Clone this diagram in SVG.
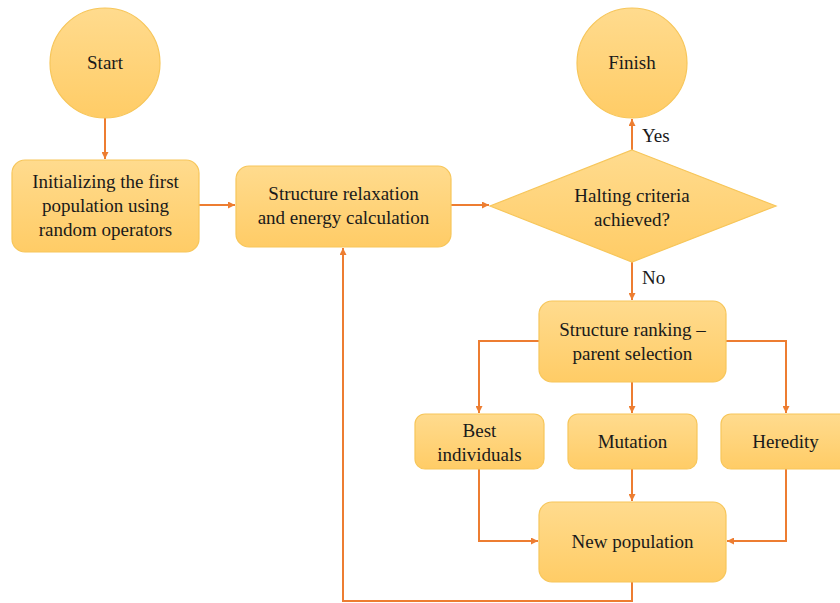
<svg xmlns="http://www.w3.org/2000/svg" width="840" height="603" viewBox="0 0 840 603">
<defs>
<linearGradient id="g" x1="0" y1="0" x2="0" y2="1">
<stop offset="0" stop-color="#FFDB8E"/>
<stop offset="1" stop-color="#FFCC66"/>
</linearGradient>
<marker id="a" viewBox="0 0 10 10" refX="10" refY="5" markerWidth="7" markerHeight="7" markerUnits="userSpaceOnUse" orient="auto">
<path d="M0,0 L10,5 L0,10 z" fill="#ED7D31"/>
</marker>
</defs>
<style>
.n{fill:url(#g);stroke:#F7C65A;stroke-width:1.2}
.t{font-family:'Liberation Serif','Times New Roman',serif;font-size:19px;fill:#1a1a1a;text-anchor:middle}
.c{fill:none;stroke:#ED7D31;stroke-width:2;marker-end:url(#a)}
.l{font-family:'Liberation Serif','Times New Roman',serif;font-size:19px;fill:#1a1a1a}
</style>
<rect width="840" height="603" fill="#fff"/>
<g id="connectors">
<path class="c" d="M105,118 V159"/>
<path class="c" d="M199,205 H235"/>
<path class="c" d="M451,205 H489"/>
<path class="c" d="M632,150 V119"/>
<path class="c" d="M632,262 V300"/>
<path class="c" d="M539,341 H479 V413"/>
<path class="c" d="M632,382 V413"/>
<path class="c" d="M726,341 H786 V413"/>
<path class="c" d="M479,469 V541 H538"/>
<path class="c" d="M632,469 V501"/>
<path class="c" d="M786,469 V541 H727"/>
<path class="c" d="M632,582 V601 H343 V248"/>
<text class="l" x="642" y="142">Yes</text>
<text class="l" x="642" y="284">No</text>
</g>
<g id="start">
<circle class="n" cx="105" cy="63" r="55"/>
<text class="t" x="105" y="69">Start</text>
</g>
<g id="finish">
<circle class="n" cx="632" cy="63" r="55"/>
<text class="t" x="632" y="69">Finish</text>
</g>
<g id="init">
<rect class="n" x="12" y="160" width="187" height="92" rx="13"/>
<text class="t" x="105.5" y="188">Initializing the first</text>
<text class="t" x="105.5" y="212">population using</text>
<text class="t" x="105.5" y="236">random operators</text>
</g>
<g id="relax">
<rect class="n" x="236" y="166" width="215" height="81" rx="13"/>
<text class="t" x="343.5" y="200">Structure relaxation</text>
<text class="t" x="343.5" y="224">and energy calculation</text>
</g>
<g id="halting">
<polygon class="n" points="632,150 776,206 632,262 490,206"/>
<text class="t" x="632" y="202">Halting criteria</text>
<text class="t" x="632" y="226">achieved?</text>
</g>
<g id="ranking">
<rect class="n" x="539" y="301" width="187" height="81" rx="13"/>
<text class="t" x="632.5" y="336">Structure ranking –</text>
<text class="t" x="632.5" y="360">parent selection</text>
</g>
<g id="best">
<rect class="n" x="415" y="414" width="129" height="55" rx="10"/>
<text class="t" x="479.5" y="437">Best</text>
<text class="t" x="479.5" y="461">individuals</text>
</g>
<g id="mutation">
<rect class="n" x="568" y="414" width="129" height="55" rx="10"/>
<text class="t" x="632.5" y="448">Mutation</text>
</g>
<g id="heredity">
<rect class="n" x="721" y="414" width="129" height="55" rx="10"/>
<text class="t" x="785.5" y="448">Heredity</text>
</g>
<g id="newpop">
<rect class="n" x="539" y="502" width="187" height="80" rx="13"/>
<text class="t" x="632.5" y="548">New population</text>
</g>
</svg>
